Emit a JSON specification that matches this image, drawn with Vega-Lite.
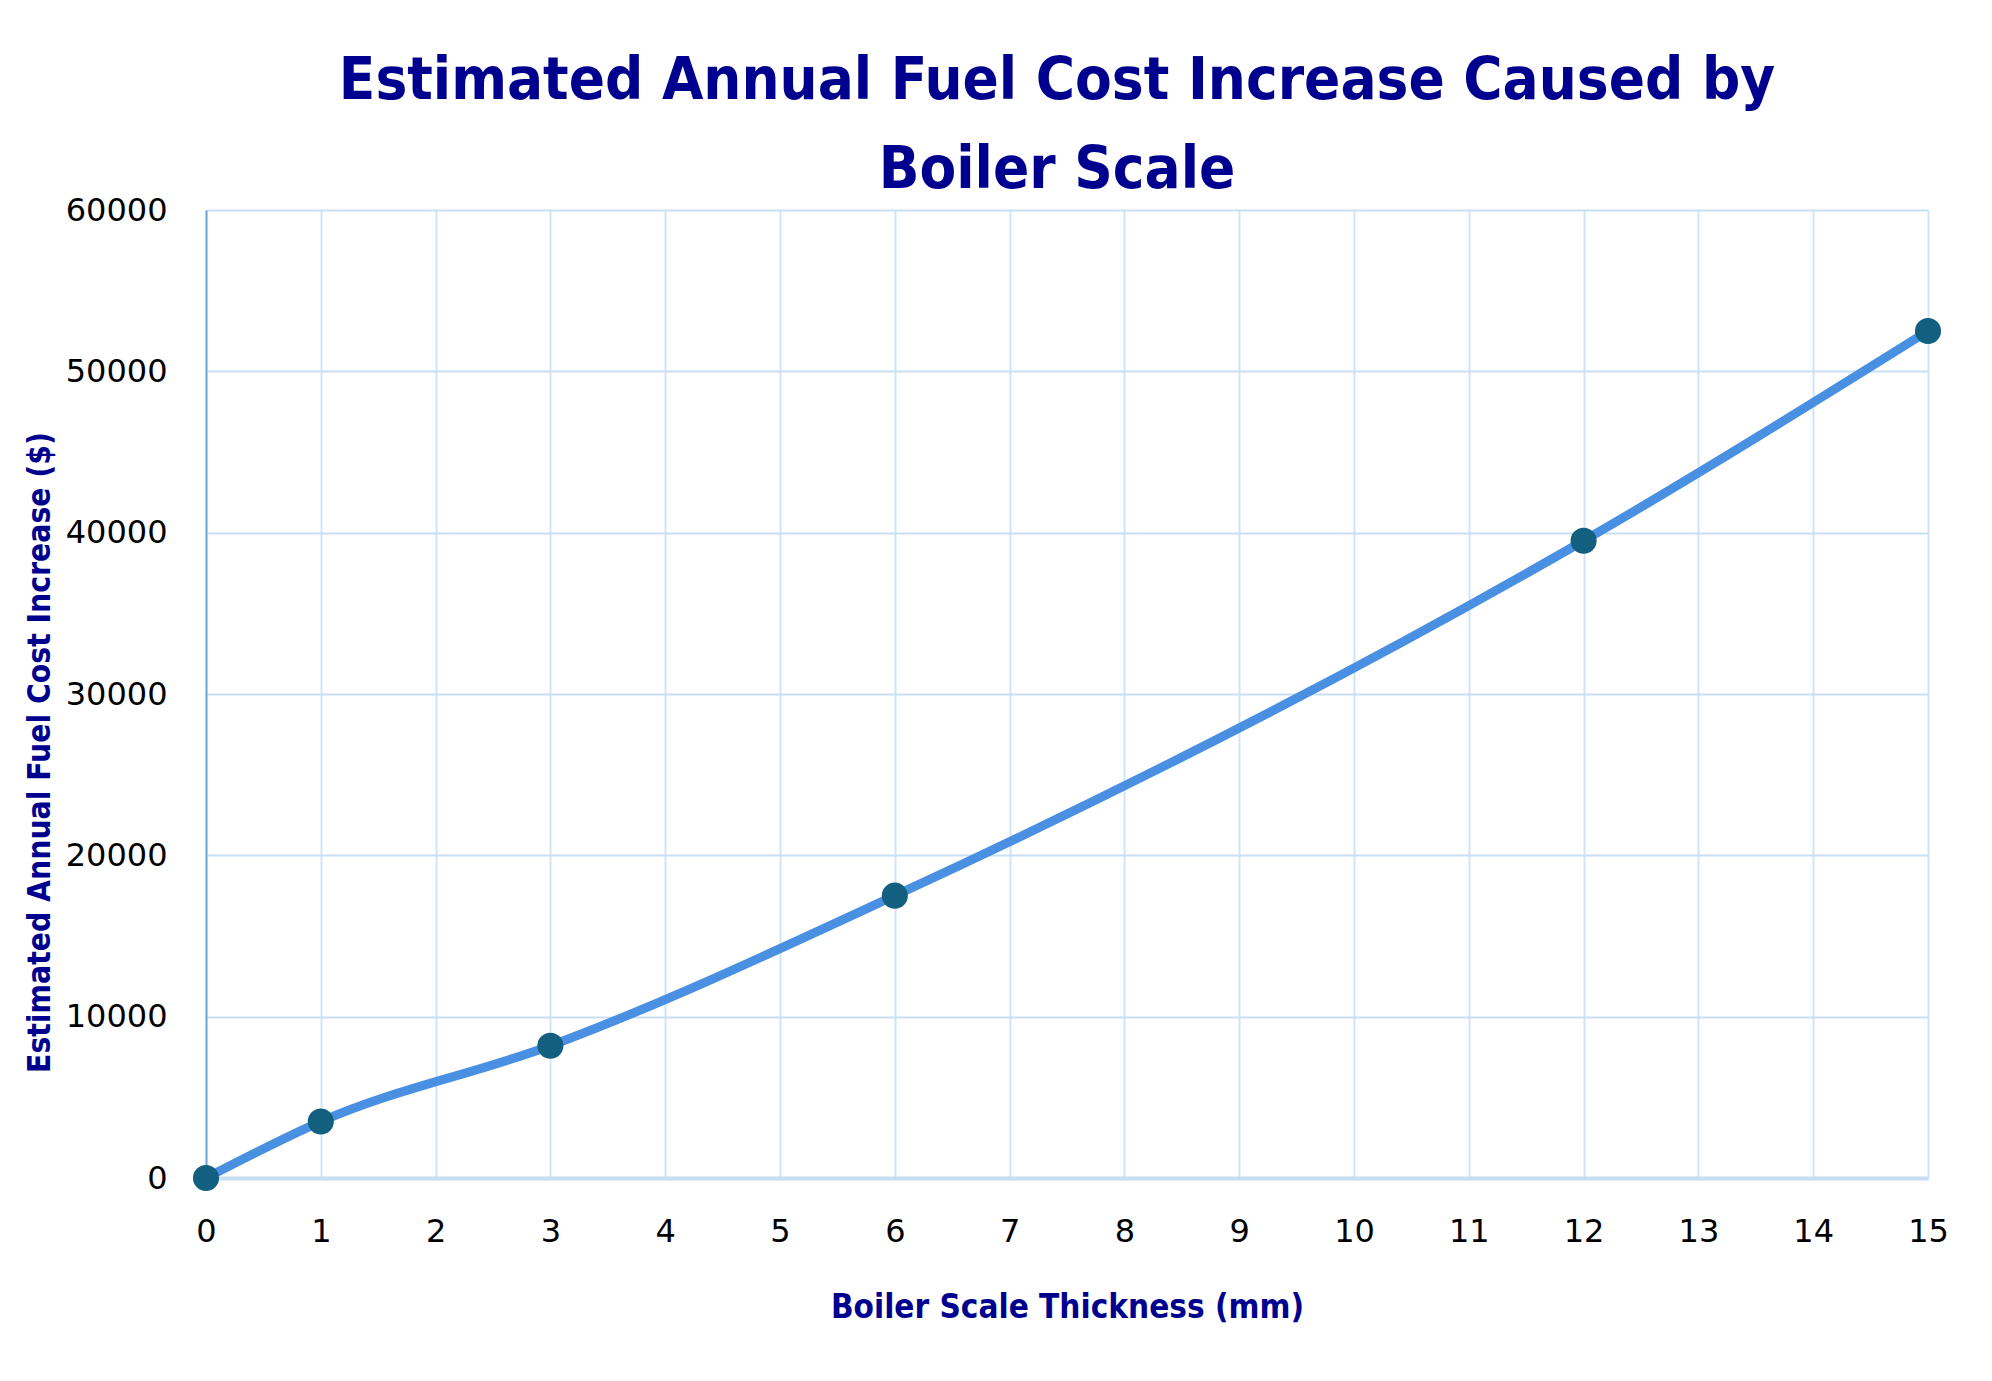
{
  "$schema": "https://vega.github.io/schema/vega-lite/v6.json",
  "width": 1722,
  "height": 968,
  "autosize": "none",
  "padding": {"left": 206, "top": 210, "right": 64, "bottom": 203},
  "background": "white",
  "title": {
    "text": ["Estimated Annual Fuel Cost Increase Caused by", "Boiler Scale"],
    "font": "DejaVu Sans Condensed",
    "fontWeight": "bold",
    "fontSize": 59.5,
    "lineHeight": 89,
    "color": "#00008F",
    "anchor": "middle",
    "offset": -6,
    "dx": -10
  },
  "data": {
    "values": [
      {"thickness": 0, "cost": 0},
      {"thickness": 1, "cost": 3500},
      {"thickness": 3, "cost": 8200},
      {"thickness": 6, "cost": 17500},
      {"thickness": 12, "cost": 39500},
      {"thickness": 15, "cost": 52500}
    ]
  },
  "encoding": {
    "x": {
      "field": "thickness",
      "type": "quantitative",
      "scale": {"domain": [0, 15], "nice": false},
      "axis": {
        "title": "Boiler Scale Thickness (mm)",
        "values": [0, 1, 2, 3, 4, 5, 6, 7, 8, 9, 10, 11, 12, 13, 14, 15],
        "labelFlush": false,
        "labelPadding": 38,
        "titlePadding": 44
      }
    },
    "y": {
      "field": "cost",
      "type": "quantitative",
      "scale": {"domain": [0, 60000], "nice": false},
      "axis": {
        "title": "Estimated Annual Fuel Cost Increase ($)",
        "values": [0, 10000, 20000, 30000, 40000, 50000, 60000],
        "format": "d",
        "labelPadding": 39,
        "labelFlush": false,
        "titleFontSize": 31.5,
        "titleX": -166,
        "titleY": 542,
        "titleAngle": -90,
        "titleAlign": "center",
        "titleBaseline": "middle"
      }
    }
  },
  "layer": [
    {
      "mark": {"type": "line", "interpolate": "monotone", "color": "#4A90E2", "strokeWidth": 9, "strokeCap": "round"}
    },
    {
      "mark": {"type": "point", "filled": true, "shape": "circle", "size": 680, "color": "#135F80", "opacity": 1}
    }
  ],
  "config": {
    "view": {"stroke": null},
    "axis": {
      "grid": true,
      "gridColor": "#CFE5F5",
      "gridWidth": 2,
      "ticks": false,
      "domain": false,
      "labelFont": "DejaVu Sans",
      "labelFontSize": 32,
      "labelColor": "#000000",
      "titleFont": "DejaVu Sans Condensed",
      "titleFontWeight": "bold",
      "titleFontSize": 33,
      "titleColor": "#00008F"
    },
    "axisX": {
      "domain": true,
      "domainColor": "#C5DCF2",
      "domainWidth": 4
    },
    "axisY": {
      "domain": true,
      "domainColor": "#6FA8DC",
      "domainWidth": 2,
      "gridColor": "#C9DFF3"
    }
  }
}
